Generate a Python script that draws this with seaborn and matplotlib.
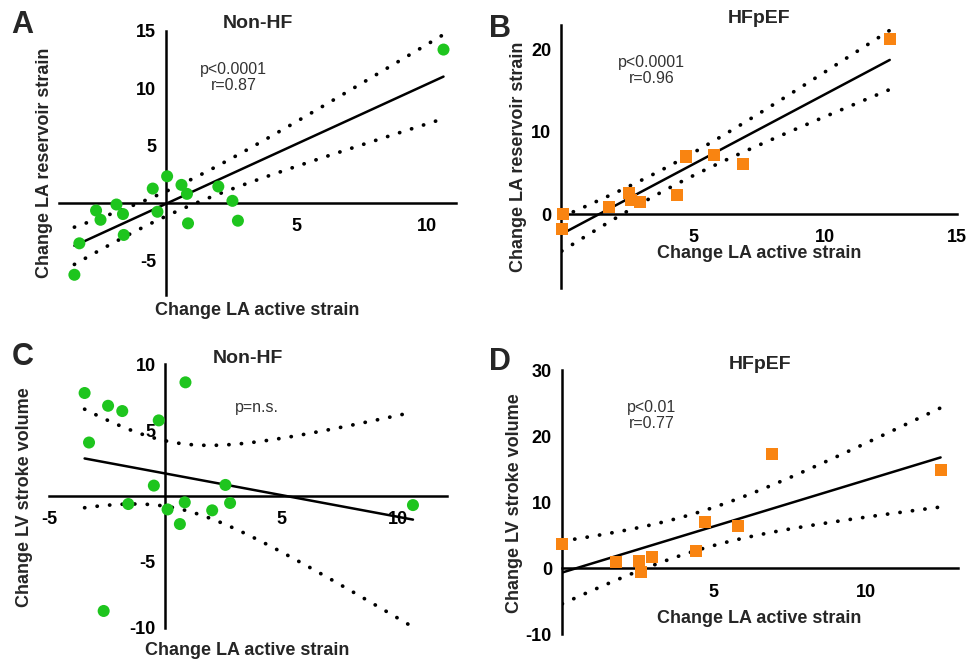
import numpy as np
import matplotlib
matplotlib.use("Agg")
import matplotlib.pyplot as plt
import seaborn as sns

# ---------- data ----------
# A: non-HF, change LA active strain vs change LA reservoir strain
a_x = [10.62, 0.04, 0.59, 0.80, 2.00, 2.54, 2.75, 0.84, -0.33, -0.51,
       -1.90, -1.65, -1.62, -2.68, -2.51, -3.32, -3.51]
a_y = [13.38, 2.34, 1.59, 0.81, 1.45, 0.20, -1.53, -1.76, -0.75, 1.27,
       -0.12, -0.95, -2.77, -0.64, -1.45, -3.50, -6.24]

# B: HFpEF, change LA active strain vs change LA reservoir strain
b_x = [12.45, 4.72, 5.80, 6.90, 4.41, 2.57, 2.64, 3.01, 1.83, 0.06, 0.03]
b_y = [21.30, 7.00, 7.13, 6.07, 2.31, 2.55, 1.66, 1.42, 0.85, 0.00, -1.78]

# C: non-HF, change LA active strain vs change LV stroke volume
c_x = [-3.48, -2.47, -1.86, -0.29, 0.86, -3.29, -0.50, 2.58, -1.60, 0.83,
       2.78, 0.09, 2.01, 0.62, 10.65, -2.66]
c_y = [7.82, 6.85, 6.45, 5.74, 8.63, 4.06, 0.79, 0.84, -0.61, -0.48,
       -0.53, -1.02, -1.09, -2.13, -0.69, -8.73]

# D: HFpEF, change LA active strain vs change LV stroke volume
d_x = [12.45, 6.90, 4.72, 5.78, 4.41, 2.98, 2.54, 2.60, 1.80, 0.02]
d_y = [14.90, 17.27, 7.02, 6.41, 2.68, 1.77, 1.11, -0.61, 0.91, 3.74]

# t(0.975, n-2) for the 95% confidence band
t_crit = {'A': 2.131, 'B': 2.262, 'C': 2.145, 'D': 2.306}

green = '#1ec51e'
orange = '#f98411'

sns.set_style('white')
plt.rcParams['font.family'] = ['Liberation Sans', 'DejaVu Sans']
plt.rcParams['font.weight'] = 'bold'
plt.rcParams['axes.labelweight'] = 'bold'
plt.rcParams['axes.unicode_minus'] = False


def fit_band(x, y, t):
    x = np.asarray(x, float)
    y = np.asarray(y, float)
    n = len(x)
    slope, icpt = np.polyfit(x, y, 1)
    xs = np.linspace(x.min(), x.max(), 200)
    yhat = icpt + slope * xs
    resid = y - (icpt + slope * x)
    s = np.sqrt(np.sum(resid ** 2) / (n - 2))
    se = s * np.sqrt(1 / n + (xs - x.mean()) ** 2 / np.sum((x - x.mean()) ** 2))
    return xs, yhat, yhat - t * se, yhat + t * se


def panel(ax, x, y, key, color, marker, title, ylabel, xlim, ylim,
          xticks, yticks, note, note_xy, ylab_pos, xlab_pos, title_y):
    xs, yhat, lo, hi = fit_band(x, y, t_crit[key])
    ax.plot(xs, yhat, color='black', lw=1.8, zorder=2)
    for band in (lo, hi):
        ax.plot(xs, band, color='black', lw=2.7, linestyle=(0, (0.05, 3.3)),
                dash_capstyle='round', zorder=2)
    sns.scatterplot(x=x, y=y, ax=ax, color=color, marker=marker, s=75,
                    edgecolor='none', zorder=3, clip_on=False)
    ax.set_xlim(*xlim)
    ax.set_ylim(*ylim)
    ax.set_xticks(xticks)
    ax.set_yticks(yticks)
    for side in ('top', 'right'):
        ax.spines[side].set_visible(False)
    ax.spines['left'].set_position(('data', 0))
    ax.spines['bottom'].set_position(('data', 0))
    for side in ('left', 'bottom'):
        ax.spines[side].set_linewidth(1.8)
        ax.spines[side].set_color('black')
    ax.tick_params(axis='both', direction='out', length=5, width=1.8,
                   labelsize=13, colors='black')
    ax.tick_params(axis='x', pad=6)
    ax.tick_params(axis='y', pad=2)
    ax.set_xlabel('Change LA active strain', fontsize=13)
    ax.set_ylabel(ylabel, fontsize=13)
    ax.xaxis.set_label_coords(*xlab_pos)
    ax.yaxis.set_label_coords(*ylab_pos)
    ax.text(0.5, title_y, title, transform=ax.transAxes, ha='center',
            va='baseline', fontsize=14, fontweight='bold')
    ax.text(note_xy[0], note_xy[1], note, ha='center', va='center',
            fontsize=11.5, fontweight='normal', color='#333333',
            linespacing=1.05)


fig = plt.figure(figsize=(9.78, 6.59), dpi=100)
ax_a = fig.add_axes([0.0603, 0.5524, 0.406, 0.4006])
ax_b = fig.add_axes([0.5736, 0.5630, 0.405, 0.3990])
ax_c = fig.add_axes([0.0504, 0.0475, 0.4063, 0.3997])
ax_d = fig.add_axes([0.5743, 0.0375, 0.4055, 0.4010])

panel(ax_a, a_x, a_y, 'A', green, 'o', 'Non-HF', 'Change LA reservoir strain',
      (-4.1, 11.1), (-8, 15), [5, 10], [-5, 5, 10, 15],
      'p<0.0001\nr=0.87', (2.58, 10.95), (-0.015, 0.5), (0.499, -0.027), 1.011)
panel(ax_b, b_x, b_y, 'B', orange, 's', 'HFpEF', 'Change LA reservoir strain',
      (0, 15), (-9, 23), [5, 10, 15], [0, 10, 20],
      'p<0.0001\nr=0.96', (3.43, 17.5), (-0.086, 0.498), (0.5, 0.163), 1.009)
panel(ax_c, c_x, c_y, 'C', green, 'o', 'Non-HF', 'Change LV stroke volume',
      (-5, 12.1), (-10, 10), [-5, 5, 10], [-10, -5, 5, 10],
      'p=n.s.', (3.93, 6.73), (-0.041, 0.496), (0.497, -0.053), 1.005)
panel(ax_d, d_x, d_y, 'D', orange, 's', 'HFpEF', 'Change LV stroke volume',
      (0, 13.03), (-10, 30), [5, 10], [-10, 0, 10, 20, 30],
      'p<0.01\nr=0.77', (2.96, 23.1), (-0.098, 0.497), (0.497, 0.092), 1.004)

for letter, px, py in [('A', 11, 33), ('B', 489, 37), ('C', 12, 365), ('D', 489, 370)]:
    fig.text(px / 978, 1 - py / 659, letter, ha='left', va='baseline',
             fontsize=22, fontweight='bold')

fig.savefig('out.png', dpi=100)
